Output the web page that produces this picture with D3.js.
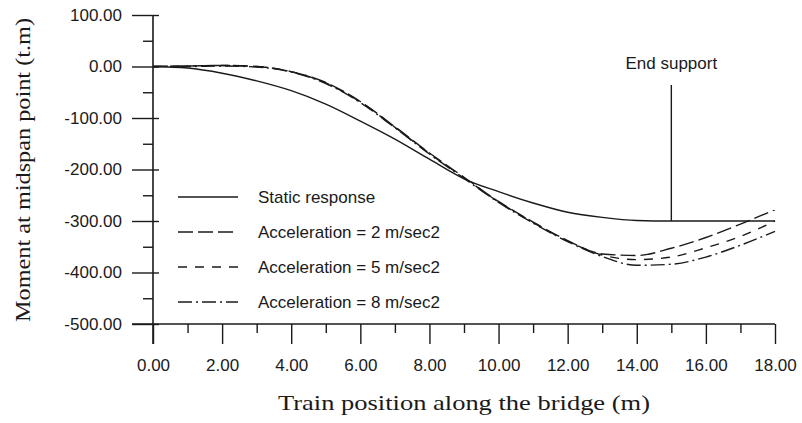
<!DOCTYPE html>
<meta charset="utf-8">
<head>
<script src="https://d3js.org/d3.v7.min.js"></script>
<style>
  body { margin: 0; background: #fff; }
  .tick text { font-family: "Liberation Sans", Arial, sans-serif; font-size: 17px; fill: #1a1a1a; }
  .lab { font-family: "Liberation Sans", Arial, sans-serif; font-size: 17px; fill: #1a1a1a; }
  .ttl { font-family: "Liberation Serif", "Times New Roman", serif; font-size: 22px; fill: #1a1a1a; }
</style>
</head>
<body>
<script>
// train position (m)
var positions = [0,1,2,3,4,5,6,7,8,9,10,11,12,13,14,15,16,17,18];
// moment at midspan (t.m)
var staticResp = [0,-3,-13,-28,-47,-73,-106,-141,-180,-218,-243,-265,-283,-293,-299,-300,-300,-300,-300];
var accel2 = [0,1,2,0,-10,-31,-68,-117,-168,-215,-262,-302,-338,-364,-367,-353,-332,-306,-278];
var accel5 = [0,1,2,0,-10,-32,-69,-118,-169,-216,-263,-303,-339,-366,-375,-370,-352,-330,-300];
var accel8 = [0,0,1,-1,-11,-33,-70,-119,-170,-217,-264,-304,-340,-369,-386,-384,-370,-347,-320];

var seriesNames = ["Static response", "Acceleration = 2 m/sec2", "Acceleration = 5 m/sec2", "Acceleration = 8 m/sec2"];
var seriesDash = [null, "15,5", "9,8", "14,4,2,4"];
var yTicks = [100,0,-100,-200,-300,-400,-500];
var xTicks = [0,2,4,6,8,10,12,14,16,18];
var endSupport = 15;

var width = 802, height = 423;
var ink = "#1a1a1a";
var fmt = function(d) { return d.toFixed(2); }; // plain hyphen minus like the scan

var svg = d3.select("body").append("svg")
  .attr("width", width)
  .attr("height", height);

var x = d3.scaleLinear().domain([0, 18]).range([153, 775]);
var y = d3.scaleLinear().domain([-500, 100]).range([324, 15]);

// y axis: major ticks at 100, minor at 50
var yMinor = svg.append("g")
  .attr("transform", "translate(" + x(0) + ",0)")
  .call(d3.axisLeft(y).tickValues(d3.range(-450, 100, 100)).tickSize(10).tickFormat(""));
yMinor.select(".domain").remove();

var yAx = svg.append("g")
  .attr("transform", "translate(" + x(0) + ",0)")
  .call(d3.axisLeft(y).tickValues(yTicks).tickSize(21).tickPadding(10).tickFormat(fmt));
yAx.select(".domain").remove();
yAx.selectAll(".tick line").attr("x1", 6);

// x axis: major every 2, minor every 1
var xMinor = svg.append("g")
  .attr("transform", "translate(0," + y(-500) + ")")
  .call(d3.axisBottom(x).tickValues(d3.range(1, 18, 2)).tickSize(9).tickFormat(""));
xMinor.select(".domain").remove();

var xAx = svg.append("g")
  .attr("transform", "translate(0," + y(-500) + ")")
  .call(d3.axisBottom(x).tickValues(xTicks).tickSize(20).tickPadding(15).tickFormat(fmt));
xAx.select(".domain").remove();

svg.selectAll(".tick line").attr("stroke", ink).attr("stroke-width", 1.4);

// axis lines
svg.append("line")
  .attr("x1", x(0)).attr("x2", x(0))
  .attr("y1", y(100)).attr("y2", y(-500) + 20)
  .attr("stroke", ink).attr("stroke-width", 1.6);
svg.append("line")
  .attr("x1", x(0) - 21).attr("x2", x(18))
  .attr("y1", y(-500)).attr("y2", y(-500))
  .attr("stroke", ink).attr("stroke-width", 1.4);

// curves
var allSeries = [staticResp, accel2, accel5, accel8];
var line = d3.line()
  .x(function(d, i) { return x(positions[i]); })
  .y(function(d) { return y(d); })
  .curve(d3.curveMonotoneX);

svg.selectAll("path.curve")
  .data(allSeries)
  .enter().append("path")
    .attr("class", "curve")
    .attr("d", line)
    .attr("fill", "none")
    .attr("stroke", ink)
    .attr("stroke-width", 1.4)
    .attr("stroke-dasharray", function(d, i) { return seriesDash[i]; });

// end support marker
svg.append("line")
  .attr("x1", x(endSupport)).attr("x2", x(endSupport))
  .attr("y1", 85).attr("y2", y(-300))
  .attr("stroke", ink).attr("stroke-width", 1.4);
svg.append("text")
  .attr("class", "lab")
  .attr("x", x(endSupport))
  .attr("y", 69)
  .attr("text-anchor", "middle")
  .text("End support");

// legend
var leg = svg.selectAll("g.leg")
  .data(seriesNames)
  .enter().append("g")
    .attr("class", "leg")
    .attr("transform", function(d, i) { return "translate(178," + (197 + i * 35) + ")"; });
leg.append("line")
  .attr("x1", 0).attr("x2", 60)
  .attr("stroke", ink).attr("stroke-width", 1.4)
  .attr("stroke-dasharray", function(d, i) { return seriesDash[i]; });
leg.append("text")
  .attr("class", "lab")
  .attr("x", 80)
  .attr("y", 6)
  .text(function(d) { return d; });

// axis titles
svg.append("text")
  .attr("class", "ttl")
  .attr("x", (x(0) + x(18)) / 2)
  .attr("y", 410)
  .attr("text-anchor", "middle")
  .attr("textLength", 372)
  .attr("lengthAdjust", "spacingAndGlyphs")
  .text("Train position along the bridge (m)");

svg.append("text")
  .attr("class", "ttl")
  .attr("transform", "translate(30,170) rotate(-90)")
  .attr("text-anchor", "middle")
  .attr("textLength", 304)
  .attr("lengthAdjust", "spacingAndGlyphs")
  .text("Moment at midspan point (t.m)");
</script>
</body>
